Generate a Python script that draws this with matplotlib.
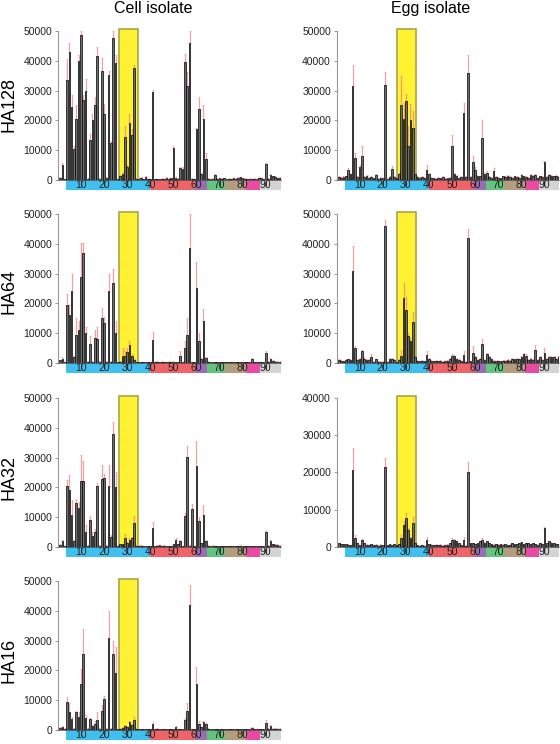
import numpy as np
import matplotlib
matplotlib.use('Agg')
from matplotlib import pyplot as plt

plt.rcParams['font.family'] = ['Liberation Sans', 'DejaVu Sans']

# residue positions 1..96, signal values in thousands
positions = np.arange(1, 97)

cell_ha128 = [0.8, 5.0, 0.3, 33.5, 43.0, 24.5, 10.5, 20.5, 40.0, 48.5,
              27.0, 30.0, 0.5, 13.5, 20.0, 25.0, 41.7, 0.5, 36.7, 22.0,
              0.8, 35.3, 12.5, 47.5, 39.3, 0.3, 1.5, 2.0, 14.5, 4.5,
              19.0, 15.0, 37.7, 0.5, 0.5, 0.8, 0.4, 1.0, 0.5, 0.3,
              29.5, 0.3, 0.4, 0.3, 0.5, 0.4, 0.8, 0.5, 0.6, 10.8,
              0.8, 0.5, 4.0, 3.7, 39.5, 31.5, 46.0, 0.5, 0.3, 17.0,
              23.8, 2.0, 20.5, 7.0, 0.5, 0.4, 0.5, 1.8, 0.5, 0.6,
              0.5, 0.6, 0.4, 0.5, 0.4, 0.6, 0.5, 0.7, 0.9, 0.6,
              0.5, 0.4, 0.5, 0.4, 0.5, 0.4, 0.8, 0.6, 0.4, 5.5,
              0.5, 1.8, 1.2, 1.0, 0.6, 0.8]
cell_ha128_err = [0.2, 0.6, 0.1, 7.0, 3.0, 4.0, 1.0, 4.5, 2.0, 1.5,
                  1.5, 4.0, 0.2, 2.0, 2.0, 3.0, 3.0, 0.2, 4.3, 3.5,
                  0.3, 1.2, 0.5, 2.5, 2.7, 0.1, 0.3, 0.8, 3.5, 0.5,
                  3.0, 2.0, 0.8, 0.2, 0.1, 0.2, 0.1, 0.2, 0.1, 0.1,
                  0.7, 0.1, 0.1, 0.1, 0.1, 0.1, 0.2, 0.1, 0.1, 0.5,
                  0.2, 0.1, 0.3, 0.8, 2.8, 4.8, 4.0, 0.1, 0.1, 0.5,
                  4.0, 0.3, 4.5, 2.0, 0.1, 0.1, 0.1, 0.3, 0.1, 0.1,
                  0.1, 0.1, 0.1, 0.1, 0.1, 0.1, 0.1, 0.2, 0.2, 0.1,
                  0.1, 0.1, 0.1, 0.1, 0.1, 0.1, 0.2, 0.1, 0.1, 0.3,
                  0.1, 0.3, 0.2, 0.2, 0.1, 0.1]

egg_ha128 = [1.0, 0.8, 1.0, 1.2, 3.3, 2.0, 31.5, 7.5, 1.0, 4.5,
             8.0, 1.0, 1.5, 0.8, 1.0, 0.6, 1.8, 0.5, 0.8, 0.6,
             32.0, 0.5, 1.0, 3.8, 1.0, 0.8, 2.0, 25.0, 20.3, 26.5,
             11.5, 20.0, 17.5, 2.0, 1.0, 0.8, 1.0, 0.8, 3.3, 2.0,
             0.8, 0.6, 0.5, 0.8, 0.6, 1.0, 0.5, 0.6, 0.8, 11.5,
             2.0, 1.5, 0.6, 1.0, 22.5, 1.0, 35.8, 1.0, 6.0, 3.3,
             1.5, 1.2, 14.0, 2.0, 2.5, 1.0, 0.8, 3.0, 1.0, 0.8,
             0.6, 1.2, 1.0, 1.5, 1.0, 0.8, 1.2, 1.0, 0.8, 1.8,
             1.2, 1.0, 0.8, 1.8, 1.5, 1.8, 0.8, 1.2, 1.0, 6.0,
             1.0, 1.8, 1.5, 1.2, 1.5, 1.0]
egg_ha128_err = [0.2, 0.2, 0.2, 0.3, 0.7, 0.3, 7.0, 1.5, 0.2, 0.7,
                 3.3, 0.2, 0.3, 0.2, 0.2, 0.2, 0.3, 0.2, 0.2, 0.2,
                 4.3, 0.2, 0.2, 1.0, 0.2, 0.2, 0.5, 10.0, 5.7, 2.5,
                 6.5, 5.5, 5.5, 0.3, 0.2, 0.2, 0.2, 0.2, 1.7, 0.5,
                 0.2, 0.2, 0.2, 0.2, 0.2, 0.2, 0.2, 0.2, 0.2, 3.5,
                 0.3, 0.3, 0.2, 0.2, 3.5, 0.2, 6.2, 0.2, 2.0, 1.2,
                 0.3, 0.2, 6.0, 0.3, 0.5, 0.2, 0.2, 1.0, 0.2, 0.2,
                 0.2, 0.2, 0.2, 0.3, 0.2, 0.2, 0.2, 0.2, 0.2, 0.3,
                 0.2, 0.2, 0.2, 0.3, 0.3, 0.3, 0.2, 0.2, 0.2, 0.3,
                 0.2, 0.3, 0.3, 0.2, 0.2, 0.2]

cell_ha64 = [1.0, 1.5, 0.3, 19.3, 16.0, 24.0, 2.0, 9.5, 11.0, 29.0,
             37.0, 10.0, 0.5, 6.5, 0.5, 8.5, 8.2, 0.5, 15.0, 13.5,
             0.5, 24.3, 0.5, 27.0, 10.0, 0.3, 0.5, 2.5, 2.2, 3.8,
             6.0, 2.5, 1.0, 0.5, 0.3, 0.3, 0.3, 0.2, 0.2, 0.3,
             7.7, 0.3, 0.5, 0.3, 0.5, 0.3, 0.4, 0.5, 0.3, 0.5,
             0.3, 0.4, 2.5, 0.3, 5.0, 9.3, 38.7, 0.3, 0.3, 25.3,
             7.3, 1.5, 14.2, 1.8, 0.5, 0.3, 0.3, 0.4, 0.3, 0.3,
             0.4, 0.3, 0.3, 0.4, 0.3, 0.3, 0.4, 0.3, 0.3, 0.4,
             0.3, 0.3, 0.4, 1.5, 0.4, 0.3, 0.4, 0.3, 0.3, 3.5,
             0.5, 1.5, 0.8, 0.5, 0.5, 0.5]
cell_ha64_err = [0.1, 0.5, 0.1, 3.7, 3.3, 6.0, 0.2, 5.5, 3.0, 11.3,
                 3.3, 2.0, 0.1, 2.5, 0.1, 2.5, 3.8, 0.1, 3.5, 2.0,
                 0.1, 5.4, 0.1, 4.5, 4.0, 0.1, 0.1, 2.5, 1.8, 1.2,
                 1.5, 0.5, 0.2, 0.1, 0.1, 0.1, 0.1, 0.1, 0.1, 0.1,
                 2.8, 0.1, 0.1, 0.1, 0.1, 0.1, 0.1, 0.1, 0.1, 0.1,
                 0.1, 0.1, 1.5, 0.1, 2.5, 5.7, 11.3, 0.1, 0.1, 8.7,
                 2.7, 0.3, 3.8, 0.3, 0.1, 0.1, 0.1, 0.1, 0.1, 0.1,
                 0.1, 0.1, 0.1, 0.1, 0.1, 0.1, 0.1, 0.1, 0.1, 0.1,
                 0.1, 0.1, 0.1, 0.3, 0.1, 0.1, 0.1, 0.1, 0.1, 0.5,
                 0.1, 0.3, 0.1, 0.1, 0.1, 0.1]

egg_ha64 = [1.0, 0.8, 0.6, 1.0, 1.3, 1.0, 31.0, 5.0, 1.0, 1.5,
            4.0, 1.5, 1.0, 1.0, 2.0, 0.5, 1.3, 0.5, 0.5, 0.5,
            46.0, 0.5, 1.5, 1.5, 1.0, 0.5, 1.0, 2.5, 21.8, 17.8,
            9.0, 7.5, 13.8, 2.0, 0.7, 0.6, 0.7, 0.6, 2.7, 1.5,
            0.8, 0.6, 0.8, 0.6, 0.8, 0.5, 0.6, 0.8, 1.5, 2.5,
            2.5, 1.5, 1.0, 0.6, 2.7, 0.5, 42.0, 0.6, 3.3, 2.0,
            1.0, 1.5, 6.5, 1.0, 3.0, 2.0, 1.5, 0.8, 0.6, 0.8,
            0.6, 0.8, 0.8, 1.0, 0.8, 1.5, 1.2, 1.5, 1.2, 2.0,
            3.0, 2.5, 1.0, 1.5, 1.0, 4.3, 1.0, 2.0, 1.0, 3.5,
            1.5, 2.0, 2.0, 2.0, 1.5, 2.0]
egg_ha64_err = [0.2, 0.2, 0.2, 0.2, 0.2, 0.2, 8.3, 0.7, 0.2, 0.2,
                0.5, 0.5, 0.2, 0.2, 1.0, 0.2, 0.2, 0.2, 0.2, 0.2,
                2.0, 0.2, 0.2, 0.2, 0.2, 0.2, 0.2, 1.8, 4.9, 4.5,
                1.0, 1.0, 3.2, 0.2, 0.2, 0.2, 0.2, 0.2, 1.3, 0.2,
                0.2, 0.2, 0.2, 0.2, 0.2, 0.2, 0.2, 0.2, 0.2, 0.5,
                0.3, 0.2, 0.2, 0.2, 1.3, 0.2, 3.0, 0.2, 2.3, 0.2,
                0.2, 0.2, 1.5, 0.2, 0.3, 0.2, 0.2, 0.2, 0.2, 0.2,
                0.2, 0.2, 0.2, 0.2, 0.2, 0.2, 0.2, 0.2, 0.2, 0.2,
                0.3, 0.5, 0.2, 0.2, 0.2, 1.7, 0.2, 0.2, 0.2, 1.5,
                0.2, 0.2, 0.2, 0.2, 0.2, 0.2]

cell_ha32 = [0.8, 2.0, 0.3, 20.5, 19.0, 10.8, 2.0, 14.7, 13.0, 22.0,
             22.0, 5.0, 0.5, 9.0, 3.8, 5.0, 20.5, 0.5, 22.7, 23.0,
             0.5, 20.5, 3.5, 38.0, 20.0, 0.3, 1.0, 1.0, 3.0, 1.5,
             2.5, 3.0, 8.0, 0.5, 0.5, 0.5, 0.4, 0.3, 0.2, 0.3,
             6.5, 0.3, 0.5, 0.6, 0.4, 0.5, 0.3, 0.4, 0.3, 1.0,
             2.5, 1.0, 2.0, 0.3, 10.5, 30.3, 0.5, 12.7, 0.3, 27.3,
             8.7, 1.2, 10.6, 2.0, 0.5, 0.3, 0.5, 0.3, 0.4, 0.3,
             0.3, 0.4, 0.3, 0.3, 0.4, 0.3, 0.3, 0.4, 0.5, 0.3,
             0.4, 0.3, 0.3, 0.4, 0.3, 0.3, 0.4, 0.3, 0.3, 5.0,
             0.5, 2.0, 1.0, 0.8, 0.8, 0.5]
cell_ha32_err = [0.1, 0.5, 0.1, 2.0, 5.0, 4.9, 0.2, 1.3, 2.0, 9.0,
                 7.0, 2.5, 0.1, 1.5, 1.2, 1.0, 1.0, 0.1, 4.8, 1.5,
                 0.1, 7.0, 0.5, 4.0, 5.0, 0.1, 0.1, 0.1, 1.3, 0.1,
                 0.5, 0.2, 2.5, 0.1, 0.1, 0.1, 0.1, 0.1, 0.1, 0.1,
                 2.0, 0.1, 0.1, 0.1, 0.1, 0.1, 0.1, 0.1, 0.1, 0.1,
                 0.5, 0.1, 0.2, 0.1, 1.0, 3.7, 0.1, 1.6, 0.1, 8.2,
                 1.3, 0.1, 3.4, 0.3, 0.1, 0.1, 0.1, 0.1, 0.1, 0.1,
                 0.1, 0.1, 0.1, 0.1, 0.1, 0.1, 0.1, 0.1, 0.1, 0.1,
                 0.1, 0.1, 0.1, 0.1, 0.1, 0.1, 0.1, 0.1, 0.1, 0.5,
                 0.1, 0.3, 0.1, 0.1, 0.1, 0.1]

egg_ha32 = [1.0, 0.8, 0.7, 0.8, 0.6, 0.5, 20.7, 2.5, 1.0, 0.5,
            1.8, 1.0, 0.6, 0.5, 0.8, 0.5, 0.6, 0.4, 0.6, 0.5,
            21.5, 0.5, 0.8, 0.5, 0.8, 0.5, 0.8, 2.5, 5.8, 7.8,
            4.5, 2.5, 6.5, 1.0, 0.5, 0.4, 0.5, 0.4, 2.0, 0.8,
            0.6, 0.5, 0.6, 0.5, 0.6, 0.4, 0.5, 0.6, 1.0, 2.0,
            2.0, 1.5, 1.0, 0.5, 2.0, 0.4, 20.0, 1.0, 1.0, 0.8,
            1.0, 1.5, 2.0, 1.2, 1.5, 1.0, 0.8, 0.6, 0.8, 0.6,
            0.7, 0.6, 0.8, 0.5, 0.6, 1.0, 0.8, 0.7, 1.0, 1.3,
            0.8, 1.0, 1.0, 0.8, 1.0, 0.8, 0.6, 1.0, 0.8, 5.0,
            1.0, 1.5, 1.2, 1.0, 0.8, 0.8]
egg_ha32_err = [0.1, 0.1, 0.1, 0.1, 0.1, 0.1, 5.8, 0.8, 0.1, 0.1,
                0.4, 0.1, 0.1, 0.1, 0.1, 0.1, 0.1, 0.1, 0.1, 0.1,
                2.5, 0.1, 0.1, 0.1, 0.1, 0.1, 0.1, 0.8, 1.2, 1.4,
                0.5, 0.2, 1.5, 0.1, 0.1, 0.1, 0.1, 0.1, 0.7, 0.1,
                0.1, 0.1, 0.1, 0.1, 0.1, 0.1, 0.1, 0.1, 0.1, 0.5,
                0.1, 0.1, 0.1, 0.1, 0.7, 0.1, 2.8, 0.1, 0.1, 0.1,
                0.1, 0.1, 0.5, 0.1, 0.1, 0.1, 0.1, 0.1, 0.1, 0.1,
                0.1, 0.1, 0.1, 0.1, 0.1, 0.1, 0.1, 0.1, 0.1, 0.1,
                0.1, 0.1, 0.1, 0.1, 0.1, 0.1, 0.1, 0.1, 0.1, 0.5,
                0.1, 0.1, 0.1, 0.1, 0.1, 0.1]

cell_ha16 = [0.8, 1.0, 0.5, 9.5, 6.0, 3.8, 0.5, 6.0, 4.5, 15.5,
             25.5, 4.0, 0.5, 3.8, 1.5, 2.0, 3.5, 0.5, 6.5, 10.5,
             0.5, 31.0, 0.5, 25.5, 19.0, 0.3, 0.5, 0.8, 1.5, 1.0,
             2.8, 1.8, 3.5, 0.5, 0.3, 0.3, 0.2, 0.3, 0.2, 0.3,
             2.0, 0.3, 0.5, 0.3, 0.3, 0.4, 0.3, 0.3, 0.4, 0.3,
             1.0, 0.3, 0.3, 0.4, 3.5, 6.5, 42.0, 0.3, 0.3, 15.5,
             2.0, 1.0, 2.7, 2.0, 0.5, 0.3, 0.4, 0.3, 0.3, 0.4,
             0.3, 0.3, 0.4, 0.3, 0.3, 0.3, 0.4, 0.3, 0.3, 0.3,
             0.3, 0.4, 0.3, 0.8, 0.3, 0.3, 0.3, 0.3, 0.3, 2.5,
             0.5, 1.5, 0.5, 0.5, 0.5, 0.5]
cell_ha16_err = [0.1, 0.2, 0.1, 1.5, 3.0, 0.7, 0.1, 0.3, 1.5, 5.0,
                 8.5, 1.0, 0.1, 0.3, 0.1, 1.0, 2.5, 0.1, 2.0, 1.0,
                 0.1, 9.0, 0.1, 4.5, 9.0, 0.1, 0.1, 0.1, 0.2, 0.1,
                 0.3, 0.2, 1.0, 0.1, 0.1, 0.1, 0.1, 0.1, 0.1, 0.1,
                 0.7, 0.1, 0.1, 0.1, 0.1, 0.1, 0.1, 0.1, 0.1, 0.1,
                 0.5, 0.1, 0.1, 0.1, 0.5, 2.5, 6.5, 0.1, 0.1, 5.5,
                 1.0, 0.1, 0.3, 0.2, 0.1, 0.1, 0.1, 0.1, 0.1, 0.1,
                 0.1, 0.1, 0.1, 0.1, 0.1, 0.1, 0.1, 0.1, 0.1, 0.1,
                 0.1, 0.1, 0.1, 0.1, 0.1, 0.1, 0.1, 0.1, 0.1, 1.0,
                 0.1, 0.2, 0.1, 0.1, 0.1, 0.1]

col_titles = ['Cell isolate', 'Egg isolate']
row_labels = ['HA128', 'HA64', 'HA32', 'HA16']

# (row, col, values, errors, top y tick)
panels = [
    (0, 0, cell_ha128, cell_ha128_err, 50000),
    (0, 1, egg_ha128, egg_ha128_err, 50000),
    (1, 0, cell_ha64, cell_ha64_err, 50000),
    (1, 1, egg_ha64, egg_ha64_err, 50000),
    (2, 0, cell_ha32, cell_ha32_err, 50000),
    (2, 1, egg_ha32, egg_ha32_err, 40000),
    (3, 0, cell_ha16, cell_ha16_err, 50000),
]

# highlighted region and coloured position strip
hl_start, hl_end = 26.3, 34.5
strip_edges = [3.5, 40, 59.5, 64.5, 72.5, 81.5, 87.5, 96.5]
strip_colors = ['#3fc0ee', '#ee6468', '#9a6db3', '#62c47e', '#b49d7e', '#ea4ba2', '#d4d4d4']
xtick_pos = [10, 20, 30, 40, 50, 60, 70, 80, 90]

W, H = 560, 744
fig = plt.figure(figsize=(W / 100, H / 100), dpi=100)

col_left = [57.8, 336.5]
row_base = [180, 363, 547, 730]
ax_w = 223
ax_h = 152

for row, col, vals, errs, top in panels:
  ax = fig.add_axes([col_left[col] / W, 1 - row_base[row] / H, ax_w / W, ax_h / H])
  v = np.array(vals) * 1000
  e = np.array(errs) * 1000
  ylim_top = top * 1.02
  ax.axvspan(hl_start, hl_end, ymin=0, ymax=1.014 / 1.02,
             facecolor='#fff233', edgecolor='#a9a64a', linewidth=1.2, zorder=1)
  # error bars sit behind the bars, only the upper part shows
  ax.errorbar(positions, v, yerr=[np.zeros_like(e), e], fmt='none',
              ecolor='#ee8080', alpha=0.75, elinewidth=0.9, capsize=0.8, capthick=0.5, zorder=1.5)
  ax.bar(positions, v, width=0.7, color='#6e6e6e', edgecolor='black', linewidth=0.5, zorder=2)
  for i in range(len(strip_colors)):
    ax.axvspan(strip_edges[i], strip_edges[i + 1], ymin=-0.066, ymax=0,
               facecolor=strip_colors[i], edgecolor='none', clip_on=False, zorder=0.5)
  ax.set_xlim(0, 96.5)
  ax.set_ylim(0, ylim_top)
  ax.set_yticks(np.arange(0, top + 1, 10000))
  ax.set_yticklabels([str(int(t)) for t in np.arange(0, top + 1, 10000)])
  ax.set_xticks(xtick_pos)
  ax.set_xticklabels([str(t) for t in xtick_pos])
  ax.tick_params(axis='x', length=4, width=0.6, color='#222222', pad=-3.8,
                 labelsize=7.5, labelcolor='#222222')
  ax.tick_params(axis='y', length=2, width=0.6, color='#888888', pad=2,
                 labelsize=7.5, labelcolor='#222222')
  for s in ['top', 'right']:
    ax.spines[s].set_visible(False)
  ax.spines['left'].set_color('#999999')
  ax.spines['left'].set_linewidth(0.8)
  ax.spines['left'].set_bounds(0, top)
  ax.spines['bottom'].set_color('#444444')
  ax.spines['bottom'].set_linewidth(0.5)
  ax.patch.set_alpha(0)

fig.text(153 / W, 1 - 8.5 / H, col_titles[0], ha='center', va='center', fontsize=11.5)
fig.text(431 / W, 1 - 8.5 / H, col_titles[1], ha='center', va='center', fontsize=11.5)

label_y = [104.5, 291, 477.5, 660.5]
for lab, yy in zip(row_labels, label_y):
  fig.text(9 / W, 1 - yy / H, lab, rotation=90, ha='center', va='center', fontsize=13)

fig.savefig('out.png', dpi=100)
